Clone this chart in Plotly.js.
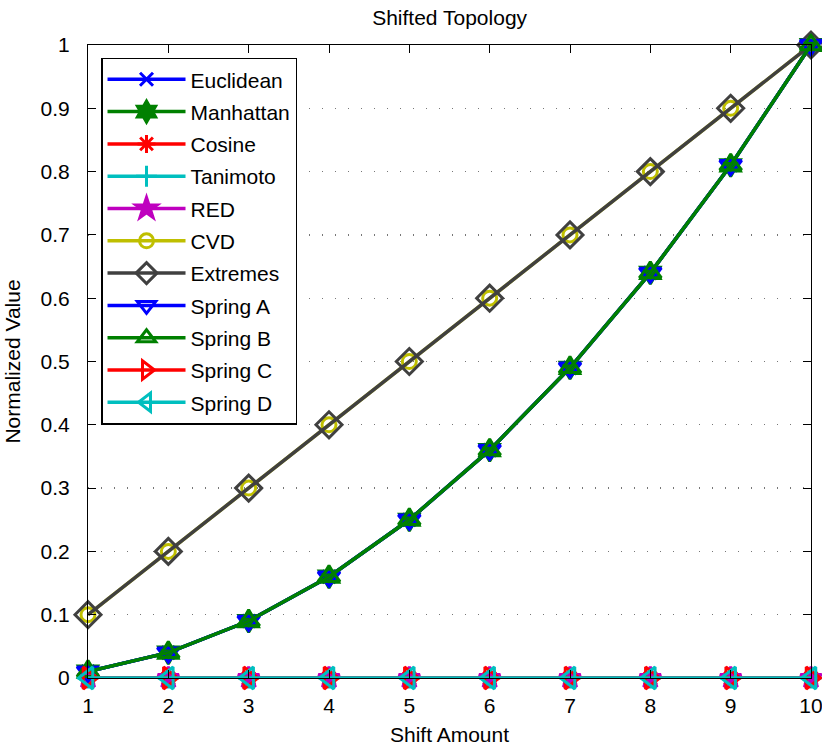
<!DOCTYPE html>
<html><head><meta charset="utf-8">
<script src="https://cdn.plot.ly/plotly-3.0.1.min.js"></script>
<style>body{margin:0;background:#fff}#c{width:822px;height:746px}</style>
</head><body><div id="c"></div>
<script>
const shift = [1,2,3,4,5,6,7,8,9,10];
const euclidean = [0.01,0.04,0.09,0.16,0.25,0.36,0.49,0.64,0.81,1.0];
const manhattan = [0.01,0.04,0.09,0.16,0.25,0.36,0.49,0.64,0.81,1.0];
const cosine = [0,0,0,0,0,0,0,0,0,0];
const tanimoto = [0,0,0,0,0,0,0,0,0,0];
const red = [0,0,0,0,0,0,0,0,0,0];
const cvd = [0.1,0.2,0.3,0.4,0.5,0.6,0.7,0.8,0.9,1.0];
const extremes = [0.1,0.2,0.3,0.4,0.5,0.6,0.7,0.8,0.9,1.0];
const springA = [0.01,0.04,0.09,0.16,0.25,0.36,0.49,0.64,0.81,1.0];
const springB = [0.01,0.04,0.09,0.16,0.25,0.36,0.49,0.64,0.81,1.0];
const springC = [0,0,0,0,0,0,0,0,0,0];
const springD = [0,0,0,0,0,0,0,0,0,0];
const yTicks = [0,0.1,0.2,0.3,0.4,0.5,0.6,0.7,0.8,0.9,1];
const yTickText = ["0","0.1","0.2","0.3","0.4","0.5","0.6","0.7","0.8","0.9","1"];

const series = [
  ["Euclidean", euclidean, "#0000ff", "x-thin-open", 13],
  ["Manhattan", manhattan, "#008000", "hexagram", 17],
  ["Cosine", cosine, "#ff0000", "asterisk-open", 15],
  ["Tanimoto", tanimoto, "#00bfbf", "cross-thin-open", 15],
  ["RED", red, "#bf00bf", "star", 16],
  ["CVD", cvd, "#bfbf00", "circle-open", 14],
  ["Extremes", extremes, "#404040", "diamond-open", 20],
  ["Spring A", springA, "#0000ff", "triangle-down-open", 19],
  ["Spring B", springB, "#008000", "triangle-up-open", 19],
  ["Spring C", springC, "#ff0000", "triangle-right-open", 19],
  ["Spring D", springD, "#00bfbf", "triangle-left-open", 19]
];

const traces = series.map((s, i) => ({
  x: shift, y: s[1], name: s[0], type: "scatter", mode: "lines+markers",
  line: {color: s[2], width: 3.5},
  marker: {symbol: s[3], size: s[4], color: s[2], line: {color: s[2], width: 3}},
  cliponaxis: false, legendgroup: "g" + i
}));

const font = {family: "Liberation Sans, Arial, sans-serif", size: 21, color: "#000"};
const layout = {
  width: 822, height: 746,
  margin: {l: 88, r: 11, t: 45, b: 68},
  paper_bgcolor: "#fff", plot_bgcolor: "#fff",
  font: font,
  title: {text: "Shifted Topology", font: font, x: 0.547, xanchor: "center", xref: "container", y: 0.976, yref: "container", yanchor: "middle"},
  xaxis: {range: [1, 10], tickvals: shift, ticks: "inside", ticklen: 8, tickcolor: "#000",
    showline: true, linecolor: "#000", linewidth: 1, mirror: "ticks", showgrid: false, zeroline: false,
    ticklabelstandoff: 9, ticklabeloverflow: "allow",
    title: {text: "Shift Amount", font: font, standoff: 12}, tickfont: font},
  yaxis: {range: [0, 1], tickvals: yTicks, ticktext: yTickText, ticks: "inside", ticklen: 8, tickcolor: "#000",
    showline: true, linecolor: "#000", linewidth: 1, mirror: "ticks", showgrid: true, gridcolor: "#777",
    griddash: "1px,12px", gridwidth: 1.3, zeroline: false,
    ticklabelstandoff: 13, ticklabeloverflow: "allow",
    title: {text: "Normalized Value", font: font, standoff: 14}, tickfont: font},
  showlegend: true,
  legend: {x: 0.018, y: 0.98, xanchor: "left", yanchor: "top", bgcolor: "#fff", bordercolor: "#000",
    borderwidth: 1.5, font: font, traceorder: "grouped", tracegroupgap: 2, itemwidth: 78}
};
Plotly.newPlot("c", traces, layout, {displayModeBar: false, staticPlot: true});
</script></body></html>
